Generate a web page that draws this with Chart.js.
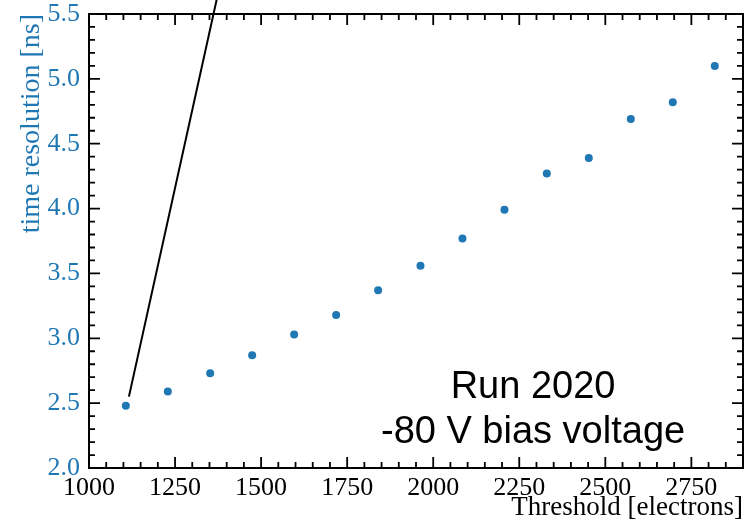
<!DOCTYPE html>
<html>
<head>
<meta charset="utf-8">
<script src="https://cdn.jsdelivr.net/npm/chart.js@4.4.1/dist/chart.umd.min.js"></script>
<style>
  html, body { margin: 0; padding: 0; background: #fff; }
</style>
</head>
<body>
<canvas id="myChart" width="750" height="527"></canvas>
<script>
const blue = "#1f77b4";
const serif = "'Liberation Serif', 'Times New Roman', serif";

// threshold [electrons]
const thresholds = [1107, 1229, 1352, 1474, 1596, 1718, 1840, 1963, 2085, 2207, 2330, 2452, 2574, 2696, 2818];
// time resolution [ns]
const resolutions = [2.48, 2.59, 2.73, 2.87, 3.03, 3.18, 3.37, 3.56, 3.77, 3.99, 4.27, 4.39, 4.69, 4.82, 5.10];
// black line going off the top
const lineX = [1116, 1380];
const lineY = [2.55, 5.72];
const annotationLines = ["Run 2020", "-80 V bias voltage"];

// inward ticks on all four sides + frame + the text box
const framePlugin = {
  id: "frame",
  afterDraw(chart) {
    const { ctx, chartArea: a, scales } = chart;
    const x = scales.x, y = scales.y;
    ctx.save();
    ctx.strokeStyle = "#000";
    ctx.lineWidth = 1.8;
    for (let v = 1000; v <= 2900; v += 50) {
      const px = x.getPixelForValue(v);
      const len = v % 250 === 0 ? 11 : 6;
      ctx.beginPath();
      ctx.moveTo(px, a.bottom); ctx.lineTo(px, a.bottom - len);
      ctx.moveTo(px, a.top); ctx.lineTo(px, a.top + len);
      ctx.stroke();
    }
    for (let i = 20; i <= 55; i++) {
      const py = y.getPixelForValue(i / 10);
      const len = i % 5 === 0 ? 11 : 6;
      ctx.beginPath();
      ctx.moveTo(a.left, py); ctx.lineTo(a.left + len, py);
      ctx.moveTo(a.right, py); ctx.lineTo(a.right - len, py);
      ctx.stroke();
    }
    ctx.lineWidth = 2;
    ctx.strokeRect(a.left, a.top, a.right - a.left, a.bottom - a.top);

    ctx.fillStyle = "#000";
    ctx.font = "38px 'Liberation Sans', Arial, sans-serif";
    ctx.textAlign = "center";
    ctx.textBaseline = "alphabetic";
    const cx = a.left + 0.679 * (a.right - a.left);
    ctx.fillText(annotationLines[0], cx, a.top + 0.846 * (a.bottom - a.top));
    ctx.fillText(annotationLines[1], cx, a.top + 0.945 * (a.bottom - a.top));
    ctx.restore();
  }
};

const ctx = document.getElementById("myChart");
new Chart(ctx, {
  type: "scatter",
  data: {
    datasets: [
      {
        data: thresholds.map((t, i) => ({ x: t, y: resolutions[i] })),
        backgroundColor: blue,
        borderWidth: 0,
        pointRadius: 4,
      },
      {
        type: "line",
        data: lineX.map((t, i) => ({ x: t, y: lineY[i] })),
        borderColor: "#000",
        borderWidth: 2,
        pointRadius: 0,
        clip: false,
      },
    ],
  },
  options: {
    responsive: false,
    animation: false,
    layout: { padding: { top: 14, right: 7, left: 0, bottom: 0 } },
    plugins: { legend: { display: false }, tooltip: { enabled: false } },
    scales: {
      x: {
        type: "linear",
        min: 1000,
        max: 2900,
        grid: { display: false, drawTicks: false },
        border: { display: false },
        afterFit: (s) => { s.height = 59; s.paddingLeft = 0; s.paddingRight = 0; },
        ticks: {
          stepSize: 250,
          includeBounds: false,
          padding: 5,
          color: "#000",
          font: { family: serif, size: 26 },
          callback: (v) => String(v),
        },
        title: {
          display: true,
          text: "Threshold [electrons]",
          align: "end",
          color: "#000",
          padding: { top: 0, bottom: 3 },
          font: { family: serif, size: 27 },
        },
      },
      y: {
        type: "linear",
        min: 2.0,
        max: 5.5,
        grid: { display: false, drawTicks: false },
        border: { display: false },
        afterFit: (s) => { s.width = 89; s.paddingTop = 0; s.paddingBottom = 0; },
        ticks: {
          stepSize: 0.5,
          includeBounds: false,
          padding: 9,
          color: blue,
          font: { family: serif, size: 26 },
          callback: (v) => Number(v).toFixed(1),
        },
        title: {
          display: true,
          text: "time resolution [ns]",
          align: "end",
          color: blue,
          padding: { top: 15, bottom: 0 },
          font: { family: serif, size: 28 },
        },
      },
    },
  },
  plugins: [framePlugin],
});
</script>
</body>
</html>
